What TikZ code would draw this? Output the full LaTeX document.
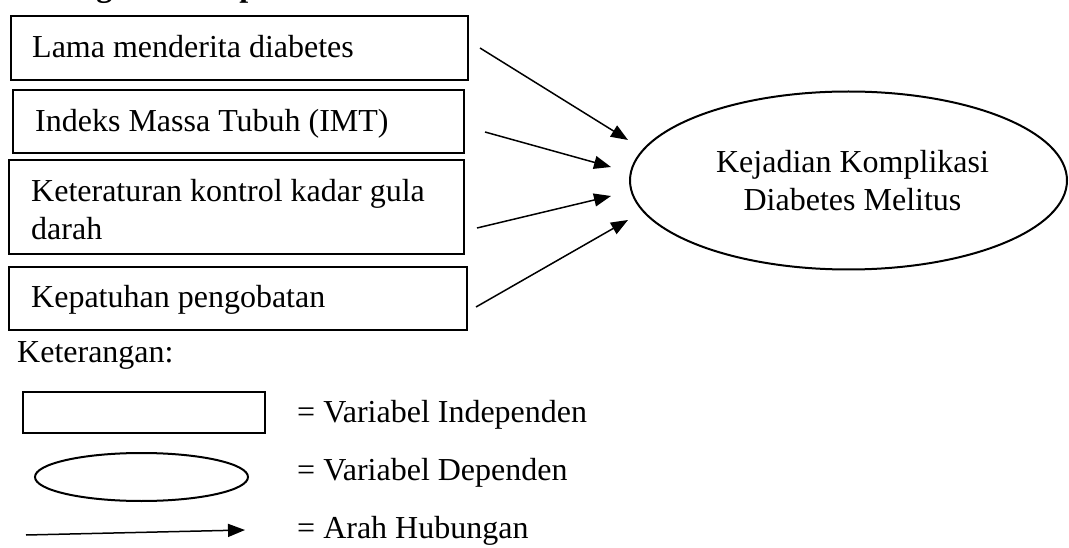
\documentclass[tikz,border=0pt]{standalone}
\usepackage{fontspec}
\setmainfont{Liberation Serif}
\usetikzlibrary{arrows.meta,shapes.geometric}
\tikzset{
  varbox/.style={draw, line width=2pt, rectangle, inner sep=0pt},
  depnode/.style={draw, line width=2pt, ellipse, inner sep=0pt, align=center},
  txt/.style={inner sep=0pt, anchor=base west},
  rel/.style={line width=1.5pt, -{Triangle[length=17pt,width=13pt]}},
}
\begin{document}
\begin{tikzpicture}[x=1pt,y=-1pt,font=\fontsize{32pt}{38pt}\selectfont]
\useasboundingbox (0,0) rectangle (1069,548);
% cut-off title
\node[txt, font=\fontsize{32pt}{38pt}\selectfont\bfseries] (title) at (9,-3) {Kerangka Konsep};
% independent variables
\node[varbox, minimum width=457pt, minimum height=64pt] (b1) at (239.5,48) {};
\node[varbox, minimum width=451pt, minimum height=63pt] (b2) at (238.5,121.5) {};
\node[varbox, minimum width=455pt, minimum height=94pt] (b3) at (236.5,207) {};
\node[varbox, minimum width=458pt, minimum height=63pt] (b4) at (238,298.5) {};
\node[txt] (t1) at (32,58) {Lama menderita diabetes};
\node[txt] (t2) at (35,132) {Indeks Massa Tubuh (IMT)};
\node[inner sep=0pt, anchor=south west, align=left] (t3) at (31,240) {Keteraturan kontrol kadar gula\\darah};
\node[txt] (t4) at (31,308) {Kepatuhan pengobatan};
% dependent variable
\node[depnode, minimum width=437pt, minimum height=178pt] (dep) at (848.5,180.5) {\hspace*{8pt}Kejadian Komplikasi\\\hspace*{8pt}Diabetes Melitus};
% arrows
\coordinate (s1) at (480,48);  \coordinate (e1) at (628,140);
\coordinate (s2) at (485,132); \coordinate (e2) at (611,167);
\coordinate (s3) at (477,228); \coordinate (e3) at (611,196);
\coordinate (s4) at (476,307); \coordinate (e4) at (628,220);
\draw[rel] (s1) -- (e1);
\draw[rel] (s2) -- (e2);
\draw[rel] (s3) -- (e3);
\draw[rel] (s4) -- (e4);
% legend
\node[txt] (ket) at (17,362) {Keterangan:};
\node[varbox, minimum width=242pt, minimum height=41pt] (lbox) at (144,412.5) {};
\node[depnode, minimum width=213pt, minimum height=48pt] (lell) at (141.5,477) {};
\coordinate (ls) at (26,535); \coordinate (le) at (245,530);
\draw[rel] (ls) -- (le);
\node[txt] (l1) at (297,422) {= Variabel Independen};
\node[txt] (l2) at (297,480) {= Variabel Dependen};
\node[txt] (l3) at (297,538) {= Arah Hubungan};
\end{tikzpicture}
\end{document}
